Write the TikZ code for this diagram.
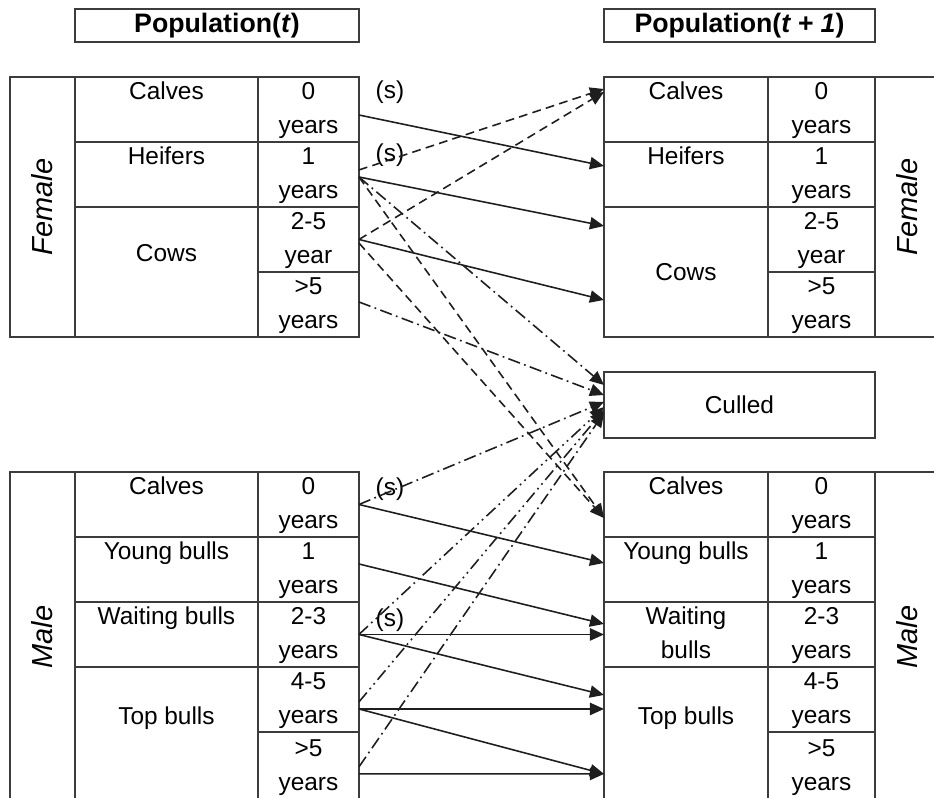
\documentclass[tikz,border=0pt]{standalone}
\usepackage{fontspec}
\setmainfont{Liberation Sans}
\usetikzlibrary{arrows.meta}
\definecolor{gridline}{HTML}{3C3C3C}
\definecolor{flowline}{HTML}{1E1E1E}
\newcommand\cellfont{\fontsize{13.9}{19.4}\selectfont}
\newcommand\twoline[2]{\rule{0pt}{11pt}#1\\\rule[-3.5pt]{0pt}{3.5pt}#2}

\begin{document}
\begin{tikzpicture}[x=0.02cm, y=-0.02cm,
cell/.style={draw=gridline, line width=0.9pt, inner sep=0pt, outer sep=0pt, anchor=north west, align=center, font=\cellfont},
lname/.style={cell, minimum width=3.66cm, minimum height=1.3cm},
lage/.style={cell, minimum width=2.02cm, minimum height=1.3cm},
rname/.style={cell, minimum width=3.28cm, minimum height=1.3cm},
rage/.style={cell, minimum width=2.14cm, minimum height=1.3cm},
tall/.style={minimum height=2.6cm},
sexcell/.style={cell, minimum width=1.3cm, font=\fontsize{16.5}{20}\selectfont\itshape},
header/.style={cell, minimum height=0.66cm, font=\fontsize{15.2}{18}\selectfont\bfseries},
slabel/.style={inner sep=0pt, font=\cellfont},
flow/.style={draw=flowline, line width=0.9pt, -{Triangle[length=8pt, width=7pt]}},
birth/.style={flow, dash pattern=on 5pt off 3pt},
cull/.style={flow, dash pattern=on 7pt off 2.5pt on 1pt off 2.5pt},
cullb/.style={flow, dash pattern=on 7pt off 2.5pt on 1pt off 2.5pt on 1pt off 2.5pt}
]
\useasboundingbox (0,0) rectangle (934,798);
\clip (0,0) rectangle (934,798);

% Headers
\node[header, minimum width=5.68cm] (popt) at (75,9) {Population(\textit{t})};
\node[header, minimum width=5.42cm] (popnext) at (604,9) {Population(\textit{t + 1})};

% Female - population at t
\node[sexcell, minimum height=5.2cm] (lfsex) at (10,77) {\rotatebox{90}{Female}};
\node[lname] (lfcalves) at (lfsex.north east) {\twoline{Calves}{}};
\node[lage] (lf0) at (lfcalves.north east) {\twoline{0}{years}};
\node[lname] (lfheifers) at (lfcalves.south west) {\twoline{Heifers}{}};
\node[lage] (lf1) at (lfheifers.north east) {\twoline{1}{years}};
\node[lname, tall] (lfcows) at (lfheifers.south west) {\twoline{Cows}{}};
\node[lage] (lf25) at (lfcows.north east) {\twoline{2-5}{year}};
\node[lage] (lf5) at (lf25.south west) {\twoline{>5}{years}};

% Female - population at t+1
\node[rname] (rfcalves) at (604,77) {\twoline{Calves}{}};
\node[rage] (rf0) at (rfcalves.north east) {\twoline{0}{years}};
\node[sexcell, minimum height=5.2cm] (rfsex) at (rf0.north east) {\rotatebox{90}{Female}};
\node[rname] (rfheifers) at (rfcalves.south west) {\twoline{Heifers}{}};
\node[rage] (rf1) at (rfheifers.north east) {\twoline{1}{years}};
\node[rname, tall] (rfcows) at (rfheifers.south west) {Cows};
\node[rage] (rf25) at (rfcows.north east) {\twoline{2-5}{year}};
\node[rage] (rf5) at (rf25.south west) {\twoline{>5}{years}};

% Culled
\node[cell, minimum width=5.42cm, minimum height=1.32cm] (culled) at (604,372) {Culled};

% Male - population at t
\node[sexcell, minimum height=6.6cm] (lmsex) at (10,472) {\rotatebox{90}{Male}};
\node[lname] (lmcalves) at (lmsex.north east) {\twoline{Calves}{}};
\node[lage] (lm0) at (lmcalves.north east) {\twoline{0}{years}};
\node[lname] (lmyoung) at (lmcalves.south west) {\twoline{Young bulls}{}};
\node[lage] (lm1) at (lmyoung.north east) {\twoline{1}{years}};
\node[lname] (lmwaiting) at (lmyoung.south west) {\twoline{Waiting bulls}{}};
\node[lage] (lm23) at (lmwaiting.north east) {\twoline{2-3}{years}};
\node[lname, minimum height=2.7cm] (lmtop) at (lmwaiting.south west) {\twoline{Top bulls}{}};
\node[lage] (lm45) at (lmtop.north east) {\twoline{4-5}{years}};
\node[lage, minimum height=1.4cm] (lm5) at (lm45.south west) {\twoline{>5}{years}};

% Male - population at t+1
\node[rname] (rmcalves) at (604,472) {\twoline{Calves}{}};
\node[rage] (rm0) at (rmcalves.north east) {\twoline{0}{years}};
\node[sexcell, minimum height=6.6cm] (rmsex) at (rm0.north east) {\rotatebox{90}{Male}};
\node[rname] (rmyoung) at (rmcalves.south west) {\twoline{Young bulls}{}};
\node[rage] (rm1) at (rmyoung.north east) {\twoline{1}{years}};
\node[rname] (rmwaiting) at (rmyoung.south west) {\twoline{Waiting}{bulls}};
\node[rage] (rm23) at (rmwaiting.north east) {\twoline{2-3}{years}};
\node[rname, minimum height=2.7cm] (rmtop) at (rmwaiting.south west) {\twoline{Top bulls}{}};
\node[rage] (rm45) at (rmtop.north east) {\twoline{4-5}{years}};
\node[rage, minimum height=1.4cm] (rm5) at (rm45.south west) {\twoline{>5}{years}};

% Survival labels
\node[slabel] (sfcalves) at ([xshift=0.62cm, yshift=0.34cm]lf0.east) {(s)};
\node[slabel] (sfheifers) at ([xshift=0.62cm, yshift=0.38cm]lf1.east) {(s)};
\node[slabel] (smcalves) at ([xshift=0.62cm, yshift=0.31cm]lm0.east) {(s)};
\node[slabel] (smwaiting) at ([xshift=0.62cm, yshift=0.29cm]lm23.east) {(s)};

% Female ageing
\draw[flow] ([yshift=-0.11cm]lf0.east) -- ([yshift=0.17cm]rfheifers.west);
\draw[flow] ([yshift=-0.05cm]lf1.east) -- ([yshift=-0.38cm]rfcows.north west);
\draw[flow] (lf25.east) -- ([yshift=-1.86cm]rfcows.north west);

% Births
\draw[birth] ([yshift=0.09cm]lf1.east) -- ([yshift=0.41cm]rfcalves.west);
\draw[birth] (lf25.east) -- ([yshift=0.35cm]rfcalves.west);
\draw[birth] ([yshift=-0.05cm]lf1.east) -- ([yshift=-0.27cm]rmcalves.west);
\draw[birth] ([yshift=-0.07cm]lf25.east) -- ([yshift=-0.27cm]rmcalves.west);

% Female culling
\draw[cull] ([yshift=-0.05cm]lf1.east) -- ([yshift=0.4cm]culled.west);
\draw[cull] ([yshift=0.05cm]lf5.east) -- ([yshift=0.2cm]culled.west);

% Male ageing
\draw[flow] (lm0.east) -- ([yshift=0.13cm]rmyoung.west);
\draw[flow] ([yshift=0.11cm]lm1.east) -- ([yshift=0.21cm]rmwaiting.west);
\draw[flow] (lm23.east) -- (rmwaiting.west);
\draw[flow] (lm23.east) -- ([yshift=-0.56cm]rmtop.north west);
\draw[flow] ([yshift=-0.19cm]lm45.east) -- ([yshift=-0.84cm]rmtop.north west);
\draw[flow] ([yshift=-0.19cm]lm45.east) -- ([yshift=-2.14cm]rmtop.north west);
\draw[flow] ([yshift=-0.14cm]lm5.east) -- ([yshift=-2.14cm]rmtop.north west);

% Male culling
\draw[cull] (lm0.east) -- ([yshift=0.06cm]culled.west);
\draw[cullb] (lm23.east) -- ([yshift=-0.04cm]culled.west);
\draw[cullb] ([yshift=-0.05cm]lm45.east) -- ([yshift=-0.1cm]culled.west);
\draw[cull] (lm5.east) -- ([yshift=-0.16cm]culled.west);

\end{tikzpicture}
\end{document}
